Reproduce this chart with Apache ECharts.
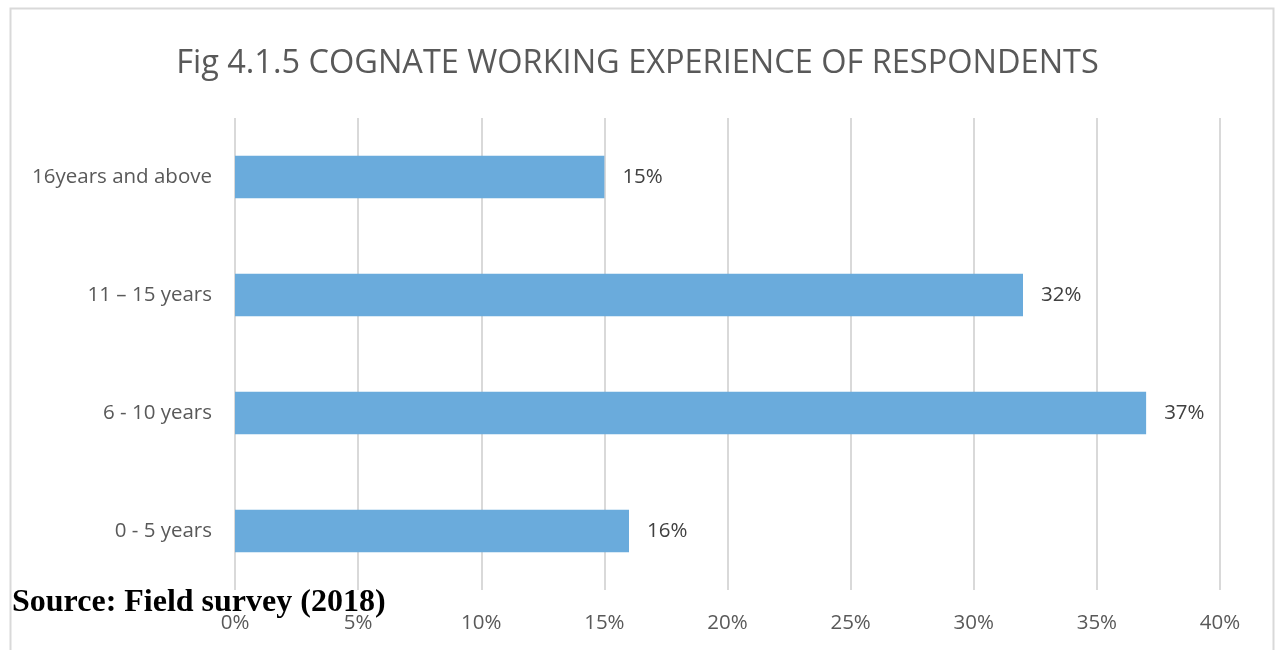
<!DOCTYPE html>
<html><head><meta charset="utf-8">
<script src="https://cdn.jsdelivr.net/npm/echarts@6/dist/echarts.min.js"></script>
<style>html,body{margin:0;padding:0;background:#fff}#c{width:1275px;height:650px}</style>
</head><body><div id="c"></div>
<script>
const categories = ['0 - 5 years', '6 - 10 years', '11 – 15 years', '16years and above'];
const values = [16, 37, 32, 15];
const titleText = 'Fig 4.1.5 COGNATE WORKING EXPERIENCE OF RESPONDENTS';
const sourceText = 'Source: Field survey (2018)';

const chart = echarts.init(document.getElementById('c'));
chart.setOption({
  backgroundColor: '#fff',
  animation: false,
  title: {
    text: titleText, left: 'center', top: 42,
    textStyle: { fontFamily: 'Open Sans', fontWeight: 'normal', fontSize: 32.5, color: '#595959' }
  },
  grid: { left: 235, right: 55, top: 118, bottom: 60, containLabel: false },
  xAxis: {
    type: 'value', min: 0, max: 40, interval: 5,
    axisLine: { show: false }, axisTick: { show: false },
    axisLabel: { formatter: '{value}%', color: '#595959', fontSize: 20.5, fontFamily: 'Open Sans', margin: 23 },
    splitLine: { lineStyle: { color: '#d9d9d9', width: 2 } }
  },
  yAxis: {
    type: 'category', data: categories,
    axisLine: { show: false }, axisTick: { show: false },
    axisLabel: { color: '#595959', fontSize: 20.5, fontFamily: 'Open Sans', margin: 23, padding: [5, 0, 0, 0] }
  },
  series: [{
    type: 'bar', data: values, barWidth: '36%',
    itemStyle: { color: '#6aabdc' },
    label: { show: true, position: 'right', distance: 18, formatter: '{c}%', color: '#404040', fontSize: 20.5, fontFamily: 'Open Sans', padding: [4, 0, 0, 0] }
  }],
  graphic: [
    { type: 'rect', shape: { x: 10.5, y: 8.5, width: 1263, height: 700 }, style: { fill: 'none', stroke: '#d9d9d9', lineWidth: 2 }, silent: true, z: -1 },
    { type: 'text', left: 12, top: 587, style: { text: sourceText, font: 'bold 32px "Liberation Serif"', fill: '#000' }, z: 10 }
  ]
});
</script></body></html>
